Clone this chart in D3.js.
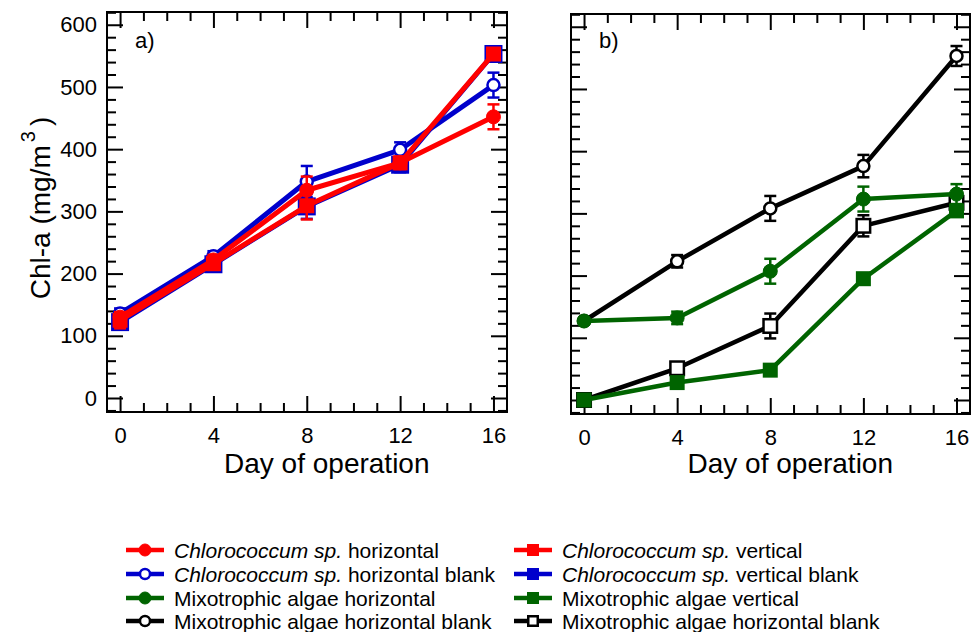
<!DOCTYPE html>
<html>
<head>
<meta charset="utf-8">
<script src="https://cdn.jsdelivr.net/npm/d3@7/dist/d3.min.js"></script>
<style>
  body { margin: 0; background: #fff; }
  svg text { font-family: "Liberation Sans", Arial, sans-serif; fill: #000; }
</style>
</head>
<body>
<div id="chart"></div>
<script>
// days sampled
const days = [0, 4, 8, 12, 16];

// panel a) Chlorococcum sp.
const chloroHorizontal      = [130, 222, 334, 378, 452];
const chloroHorizontalErr   = [8, 8, 22, 8, 20];
const chloroHorizBlank      = [136, 228, 348, 399, 503];
const chloroHorizBlankErr   = [8, 8, 25, 12, 20];
const chloroVertical        = [125, 216, 309, 378, 553];
const chloroVerticalErr     = [13, 10, 22, 10, 8];
const chloroVertBlank       = [122, 215, 308, 375, 553];
const chloroVertBlankErr    = [8, 12, 20, 12, 8];

// panel b) Mixotrophic algae
const mixoHorizontal        = [127, 132, 207, 323, 331];
const mixoHorizontalErr     = [5, 10, 20, 20, 16];
const mixoHorizBlank        = [127, 223, 308, 376, 553];
const mixoHorizBlankErr     = [5, 10, 20, 18, 16];
const mixoVertical          = [0, 28, 48, 195, 304];
const mixoVerticalErr       = [3, 5, 5, 8, 8];
const mixoVertBlank         = [0, 51, 119, 280, 317];
const mixoVertBlankErr      = [5, 5, 20, 17, 10];

const xTicks = [0, 4, 8, 12, 16];
const yTicks = [0, 100, 200, 300, 400, 500, 600];

const RED = "#ff0000", BLUE = "#0000cc", GREEN = "#006400", BLACK = "#000000";

// series in drawing order (first = bottom)
const panelASeries = [
  {values: chloroVertBlank, err: chloroVertBlankErr, color: BLUE, shape: "square", open: false, size: 18},
  {values: chloroHorizBlank, err: chloroHorizBlankErr, color: BLUE, shape: "circle", open: true, size: 6},
  {values: chloroHorizontal, err: chloroHorizontalErr, color: RED, shape: "circle", open: false, size: 7},
  {values: chloroVertical, err: chloroVerticalErr, color: RED, shape: "square", open: false, size: 15}
];
const panelBSeries = [
  {values: mixoHorizBlank, err: mixoHorizBlankErr, color: BLACK, shape: "circle", open: true, size: 6},
  {values: mixoVertBlank, err: mixoVertBlankErr, color: BLACK, shape: "square", open: true, size: 16},
  {values: mixoHorizontal, err: mixoHorizontalErr, color: GREEN, shape: "circle", open: false, size: 7},
  {values: mixoVertical, err: mixoVerticalErr, color: GREEN, shape: "square", open: false, size: 15}
];

const legendItems = [
  {italic: "Chlorococcum sp.", text: " horizontal", color: RED, shape: "circle", open: false},
  {italic: "Chlorococcum sp.", text: " vertical", color: RED, shape: "square", open: false},
  {italic: "Chlorococcum sp.", text: " horizontal blank", color: BLUE, shape: "circle", open: true},
  {italic: "Chlorococcum sp.", text: " vertical blank", color: BLUE, shape: "square", open: false},
  {italic: "", text: "Mixotrophic algae horizontal", color: GREEN, shape: "circle", open: false},
  {italic: "", text: "Mixotrophic algae vertical", color: GREEN, shape: "square", open: false},
  {italic: "", text: "Mixotrophic algae horizontal blank", color: BLACK, shape: "circle", open: true},
  {italic: "", text: "Mixotrophic algae horizontal blank", color: BLACK, shape: "square", open: true}
];

const svg = d3.select("#chart").append("svg")
  .attr("width", 974)
  .attr("height", 632);

function drawMarker(g, shape, open, color, size, cx, cy) {
  if (shape === "circle") {
    g.append("circle")
      .attr("cx", cx).attr("cy", cy).attr("r", size)
      .attr("fill", open ? "#fff" : color)
      .attr("stroke", color)
      .attr("stroke-width", open ? 2.5 : 1);
  } else {
    const s = open ? size - 2.5 : size;
    g.append("rect")
      .attr("x", cx - s / 2).attr("y", cy - s / 2)
      .attr("width", s).attr("height", s)
      .attr("fill", open ? "#fff" : color)
      .attr("stroke", color)
      .attr("stroke-width", open ? 2.5 : 0);
  }
}

function drawPanel(cfg) {
  const x = d3.scaleLinear().domain([-0.56, 16.58]).range([cfg.left, cfg.right]);
  const y = d3.scaleLinear().domain([-22.5, 620.5]).range([cfg.bottom, cfg.top]);
  const g = svg.append("g");

  const minorX = d3.range(0, 17, 1).filter(d => d % 4 !== 0);
  const minorY = d3.range(-20, 621, 20).filter(d => d % 100 !== 0);

  const axes = [
    {gen: d3.axisBottom, scale: x, pos: `translate(0,${cfg.bottom})`, major: xTicks, minor: minorX, labels: true},
    {gen: d3.axisTop, scale: x, pos: `translate(0,${cfg.top})`, major: xTicks, minor: minorX, labels: false},
    {gen: d3.axisLeft, scale: y, pos: `translate(${cfg.left},0)`, major: yTicks, minor: minorY, labels: cfg.yLabels},
    {gen: d3.axisRight, scale: y, pos: `translate(${cfg.right},0)`, major: yTicks, minor: minorY, labels: false}
  ];
  axes.forEach(a => {
    const minor = g.append("g").attr("transform", a.pos)
      .call(a.gen(a.scale).tickValues(a.minor).tickSize(-9).tickFormat(""));
    const major = g.append("g").attr("transform", a.pos)
      .call(a.gen(a.scale).tickValues(a.major).tickSize(-16).tickPadding(a.gen === d3.axisLeft ? 10 : 15)
        .tickFormat(a.labels ? d3.format("d") : ""));
    [minor, major].forEach(s => {
      s.select(".domain").remove();
      s.selectAll("line").attr("stroke", "#000").attr("stroke-width", 2);
      s.selectAll("text").attr("font-size", 22).attr("font-family", "Liberation Sans, Arial, sans-serif");
    });
  });

  g.append("rect")
    .attr("x", cfg.left).attr("y", cfg.top)
    .attr("width", cfg.right - cfg.left).attr("height", cfg.bottom - cfg.top)
    .attr("fill", "none").attr("stroke", "#000").attr("stroke-width", 2);

  const line = d3.line().x((d, i) => x(days[i])).y(d => y(d));

  cfg.series.forEach(s => {
    const sg = g.append("g");
    sg.append("path")
      .datum(s.values)
      .attr("d", line)
      .attr("fill", "none")
      .attr("stroke", s.color)
      .attr("stroke-width", cfg.lineWidth)
      .attr("stroke-linejoin", "round");
    s.values.forEach((v, i) => {
      const cx = x(days[i]);
      const y0 = y(v - s.err[i]), y1 = y(v + s.err[i]);
      sg.append("line").attr("x1", cx).attr("x2", cx).attr("y1", y0).attr("y2", y1)
        .attr("stroke", s.color).attr("stroke-width", 2.5);
      [y0, y1].forEach(yy => sg.append("line")
        .attr("x1", cx - 6).attr("x2", cx + 6).attr("y1", yy).attr("y2", yy)
        .attr("stroke", s.color).attr("stroke-width", 2.5));
    });
    s.values.forEach((v, i) => drawMarker(sg, s.shape, s.open, s.color, s.size, x(days[i]), y(v)));
  });

  g.append("text")
    .attr("x", cfg.left + 28).attr("y", 48)
    .attr("font-size", 22)
    .text(cfg.label);

  g.append("text")
    .attr("x", (x(0) + x(16)) / 2 + 20).attr("y", 473)
    .attr("text-anchor", "middle")
    .attr("font-size", 28)
    .text("Day of operation");
}

drawPanel({left: 107, right: 507, top: 12, bottom: 412, series: panelASeries, lineWidth: 5, label: "a)", yLabels: true});
drawPanel({left: 571, right: 970, top: 14, bottom: 414, series: panelBSeries, lineWidth: 4.5, label: "b)", yLabels: false});

// y-axis title
const yTitle = svg.append("text")
  .attr("transform", "translate(50,208) rotate(-90)")
  .attr("text-anchor", "middle")
  .attr("font-size", 28);
yTitle.append("tspan").text("Chl-a (mg/m");
yTitle.append("tspan").attr("font-size", 20).attr("dx", 3).attr("dy", -15).text("3");
yTitle.append("tspan").attr("dx", 5).attr("dy", 15).text(")");

// legend
const legend = svg.append("g");
const colX = [126, 514];
const rowY = [550, 574, 598, 621];
legendItems.forEach((d, i) => {
  const lx = colX[i % 2], ly = rowY[Math.floor(i / 2)];
  const lg = legend.append("g");
  lg.append("line")
    .attr("x1", lx).attr("x2", lx + 38).attr("y1", ly).attr("y2", ly)
    .attr("stroke", d.color).attr("stroke-width", 4.5);
  drawMarker(lg, d.shape, d.open, d.color, d.shape === "circle" ? (d.open ? 5 : 6) : 12, lx + 19, ly);
  const t = lg.append("text")
    .attr("x", lx + 48).attr("y", ly + 7.5)
    .attr("font-size", 21);
  if (d.italic) t.append("tspan").attr("font-style", "italic").text(d.italic);
  t.append("tspan").text(d.text);
});
</script>
</body>
</html>
